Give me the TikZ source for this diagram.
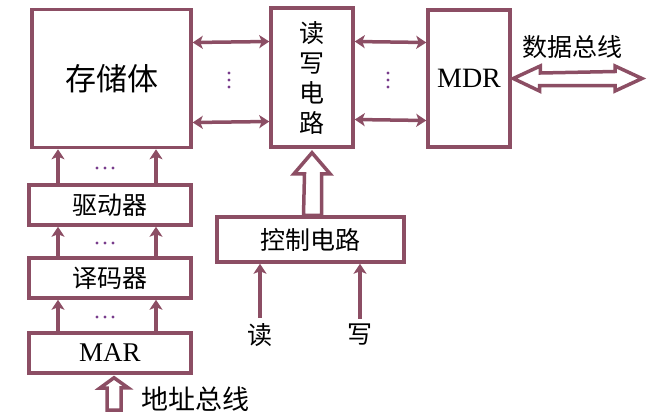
\documentclass[tikz,border=0pt]{standalone}
\usepackage{fontspec}
\setmainfont{Liberation Serif}
\newfontfamily\cjk{Noto Sans CJK SC}
\usetikzlibrary{arrows.meta,calc}
\definecolor{rose}{RGB}{140,78,100}
\definecolor{dotc}{RGB}{120,60,140}
\tikzset{
  blk/.style={draw=rose, line width=3.5pt, fill=white, inner sep=0pt},
  link/.style={draw=rose, line width=3.5pt, -{Stealth[length=10pt,width=13pt,inset=2.5pt]}},
  biarrow/.style={link, {Stealth[length=10pt,width=13pt,inset=2.5pt]}-{Stealth[length=10pt,width=13pt,inset=2.5pt]}},
  hollow/.style={draw=rose, line width=3.5pt, fill=white, line join=miter},
  zh/.style={font=\cjk\fontsize{25}{30}\selectfont}
}
\newcommand\hdots[1]{\foreach \d in {-8,0,8} \fill[dotc] ($(#1)+(\d,0)$) circle (1.6pt);}
\newcommand\vdotsat[1]{\foreach \d in {-7,0,7} \fill[dotc] ($(#1)+(0,\d)$) circle (1.6pt);}
\begin{document}
\begin{tikzpicture}[x=1pt,y=-1pt]
    \useasboundingbox (0,0) rectangle (661,418);
    % blocks
    \node[blk, minimum width=159pt, minimum height=138pt, zh, font=\cjk\fontsize{31}{31}\selectfont] (store) at (111.5,78.5) {存储体};
    \node[blk, minimum width=82pt, minimum height=139pt, zh, align=center] (rw) at (312,77.5) {读\\写\\电\\路};
    \node[blk, minimum width=82pt, minimum height=137pt, font=\fontsize{28}{28}\selectfont] (mdr) at (469,78.5) {MDR};
    \node[blk, minimum width=162pt, minimum height=40pt, zh] (drv) at (110,205) {驱动器};
    \node[blk, minimum width=162pt, minimum height=40pt, zh] (dec) at (110,278) {译码器};
    \node[blk, minimum width=162pt, minimum height=40pt, font=\fontsize{27}{27}\selectfont] (mar) at (110,353) {MAR};
    \node[blk, minimum width=187pt, minimum height=45pt, zh] (ctrl) at (310.5,239.5) {控制电路};

    % storage <-> read/write <-> MDR
    \draw[biarrow] ([yshift=36pt]store.east) -- ([yshift=36pt]rw.west);
    \draw[biarrow] ([yshift=-44pt]store.east) -- ([yshift=-44pt]rw.west);
    \draw[biarrow] ([yshift=36pt]rw.east) -- ([yshift=36pt]mdr.west);
    \draw[biarrow] ([yshift=-42pt]rw.east) -- ([yshift=-42pt]mdr.west);
    \coordinate (d1) at (229,80);
    \coordinate (d2) at (388,80);
    \vdotsat{d1} \vdotsat{d2}

    % left column
    \foreach \lo/\hi in {mar/dec, dec/drv, drv/store} {
        \draw[link] ([xshift=-52pt]\lo.north) -- ([xshift=-52pt]\lo.north |- \hi.south);
        \draw[link] ([xshift=46pt]\lo.north) -- ([xshift=46pt]\lo.north |- \hi.south);
    }
    \coordinate (d3) at (105,168);
    \coordinate (d4) at (105,243);
    \coordinate (d5) at (105,317);
    \hdots{d3} \hdots{d4} \hdots{d5}

    % address bus
    \draw[hollow] ($(mar.south)+(4,3)$) -- ++(14,10) -- ++(-7,0) -- (121,410) -- (107,410)
        -- ++(0,-22) -- ++(-7,0) -- cycle;
    \node[zh, font=\cjk\fontsize{27}{27}\selectfont, anchor=west] (addr) at (138,399) {地址总线};

    % data bus
    \draw[hollow] ($(mdr.east)+(1.5,0)$) -- ++(27,-12.5) -- ++(0,7) -- (615,71.5) -- (615,66)
        -- (642,78.5) -- (615,91) -- (615,85.5) -- (539.5,85.5) -- ++(0,5.5) -- cycle;
    \node[zh] (data) at (572,47) {数据总线};

    % control
    \draw[hollow] ($(rw.south)+(0,4)$) -- ++(18,21) -- ++(-8.5,0) -- ($(ctrl.north)+(11,0)$)
        -- ($(ctrl.north)+(-7,0)$) -- ($(rw.south)+(-7.5,25)$) -- ++(-10.5,0) -- cycle;
    \node[zh] (rd) at (260,335) {读};
    \node[zh] (wr) at (360,335) {写};
    \draw[link] (rd.north) ++(0,-2) -- (rd.north |- ctrl.south);
    \draw[link] (wr.north) ++(0,-2) -- (wr.north |- ctrl.south);
\end{tikzpicture}
\end{document}
